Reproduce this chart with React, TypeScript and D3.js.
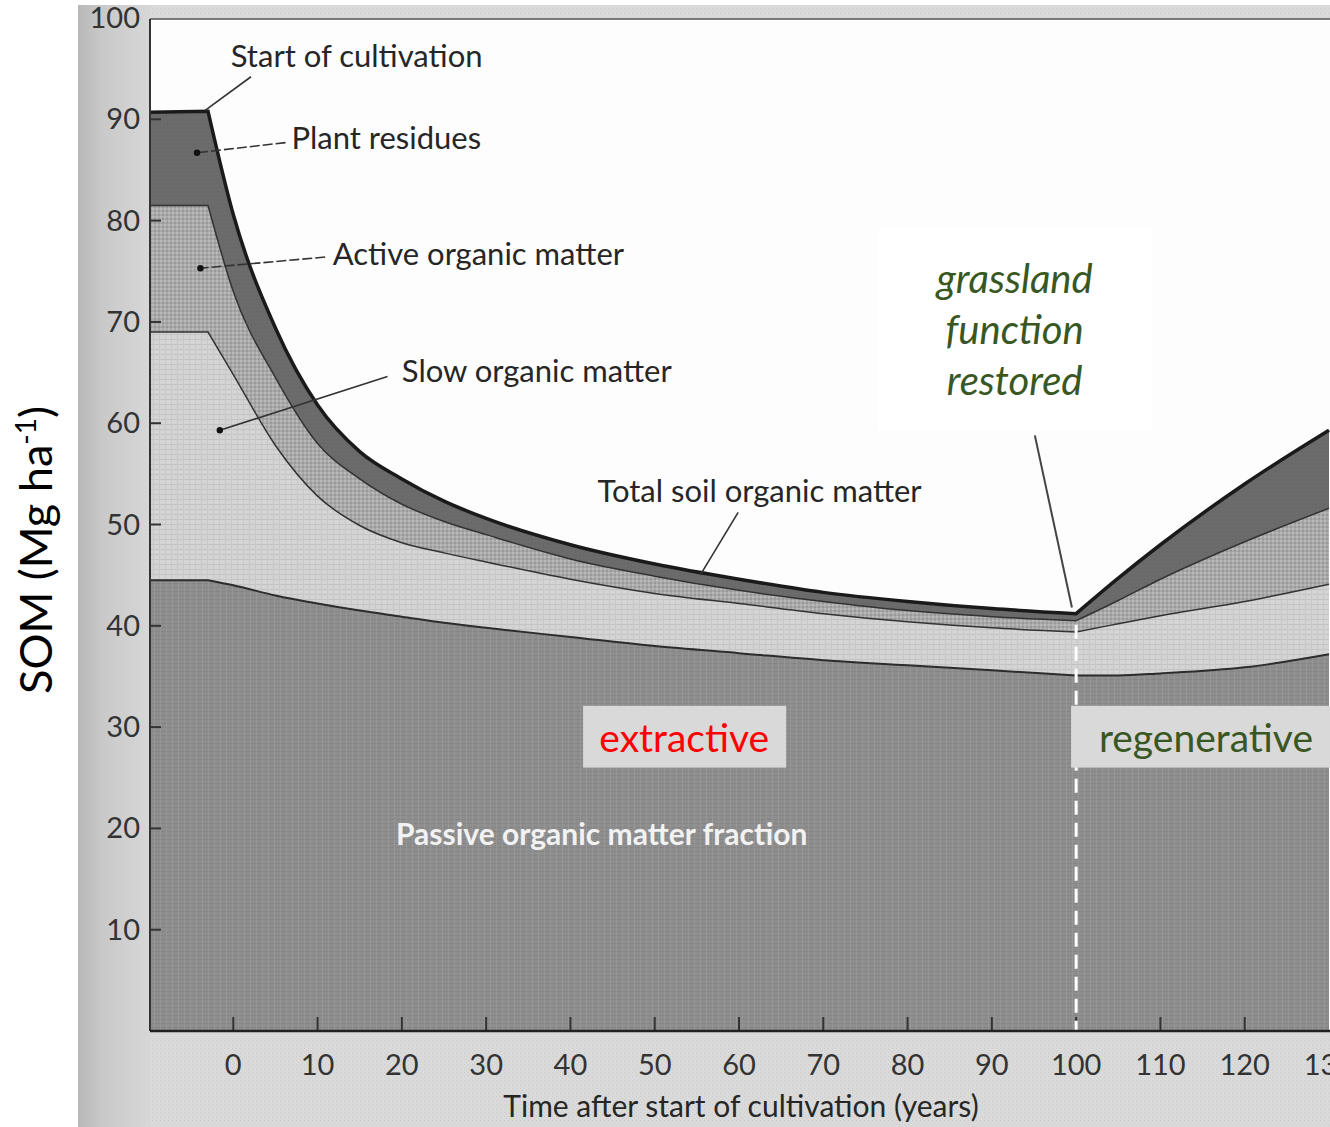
import * as d3 from "d3";

// years after start of cultivation
const YEARS = [-10, -3, 0, 5, 10, 15, 20, 25, 30, 40, 50, 60, 70, 80, 90, 100, 105, 110, 120, 130];
// upper boundary of each pool (Mg/ha), cumulative
const PASSIVE = [44.5, 44.5, 44.0, 43.0, 42.2, 41.5, 40.9, 40.3, 39.8, 38.9, 38.0, 37.3, 36.6, 36.1, 35.6, 35.1, 35.1, 35.3, 35.9, 37.2];
const SLOW = [69.0, 69.0, 64.8, 57.8, 52.8, 49.9, 48.2, 47.2, 46.3, 44.6, 43.2, 42.2, 41.2, 40.4, 39.8, 39.4, 40.2, 41.0, 42.4, 44.1];
const ACTIVE = [81.5, 81.5, 73.0, 64.5, 58.0, 54.5, 52.0, 50.3, 49.0, 46.6, 44.9, 43.5, 42.4, 41.5, 40.9, 40.5, 42.5, 44.6, 48.3, 51.6];
const TOTAL = [90.7, 90.8, 80.6, 69.4, 61.8, 57.2, 54.5, 52.3, 50.6, 48.0, 46.1, 44.6, 43.3, 42.4, 41.7, 41.2, 44.7, 48.0, 54.0, 59.3];

const X_TICKS = [0, 10, 20, 30, 40, 50, 60, 70, 80, 90, 100, 110, 120, 130];
const Y_TICKS = [10, 20, 30, 40, 50, 60, 70, 80, 90, 100];

// index ranges: before cultivation, extractive, regenerative
const SEGMENTS = [[0, 1], [1, 15], [15, 19]];

const W = 1330;
const H = 1127;
const PLOT = { left: 150, right: 1330, top: 19, bottom: 1031 };

const x = d3.scaleLinear().domain([-10, 130]).range([149, 1329]);
const y = d3.scaleLinear().domain([0, 100]).range([1031, 18]);

const FONT = "Lato, 'Open Sans', sans-serif";
const INK = "#262626";
const GREEN = "#385723";

const boundary = (vals: number[]) =>
  SEGMENTS.map(([a, b], k) => {
    const p = d3
      .line<number>()
      .x((i) => x(YEARS[i]))
      .y((i) => y(vals[i]))
      .curve(d3.curveMonotoneX)(d3.range(a, b + 1))!;
    return k === 0 ? p : "L" + p.slice(1);
  }).join("");

const fillDown = (vals: number[]) =>
  boundary(vals) + `L${x(130)},${y(0)}L${x(-10)},${y(0)}Z`;

// scan labels, placed in data units
const LABELS = [
  { text: "Start of cultivation", yr: -0.3, v: 95.2, from: [2.1, 94.2], to: [-3.3, 90.9], dot: false, dash: "" },
  { text: "Plant residues", yr: 6.9, v: 87.1, from: [6.2, 87.7], to: [-4.3, 86.7], dot: true, dash: "10 3" },
  { text: "Active organic matter", yr: 11.8, v: 75.6, from: [10.9, 76.4], to: [-3.9, 75.3], dot: true, dash: "10 3" },
  { text: "Slow organic matter", yr: 20.0, v: 64.1, from: [18.3, 64.6], to: [-1.6, 59.3], dot: true, dash: "" },
  { text: "Total soil organic matter", yr: 43.2, v: 52.2, from: [59.9, 51.2], to: [55.4, 45.0], dot: false, dash: "" },
];

export default function App() {
  const layers = [
    { vals: TOTAL, fill: "url(#residues)" },
    { vals: ACTIVE, fill: "url(#active)" },
    { vals: SLOW, fill: "url(#slow)" },
    { vals: PASSIVE, fill: "url(#passive)" },
  ];

  return (
    <div style={{ position: "absolute", left: 0, top: 0 }}>
      <svg width={W} height={H} style={{ display: "block" }}>
        <defs>
          <pattern id="paper" width="4" height="4" patternUnits="userSpaceOnUse">
            <rect width="4" height="4" fill="#dadada" />
            <rect x="0" y="0" width="1" height="1" fill="#cbcbcb" />
            <rect x="2" y="2" width="1" height="1" fill="#cecece" />
          </pattern>
          <linearGradient id="strip" x1="0" x2="1" y1="0" y2="0">
            <stop offset="0" stopColor="#b8b8b8" />
            <stop offset="0.35" stopColor="#c9c9c9" />
            <stop offset="1" stopColor="#d7d7d7" />
          </linearGradient>
          <pattern id="passive" width="6" height="4" patternUnits="userSpaceOnUse">
            <rect width="6" height="4" fill="#8e8e8e" />
            <rect x="0" y="3" width="6" height="1" fill="#858585" />
            <rect x="4" y="0" width="1" height="4" fill="#969696" />
          </pattern>
          <pattern id="slow" width="6" height="5" patternUnits="userSpaceOnUse">
            <rect width="6" height="5" fill="#d4d4d4" />
            <rect x="0" y="4" width="6" height="1" fill="#c3c3c3" />
            <rect x="3" y="0" width="1" height="5" fill="#c8c8c8" />
          </pattern>
          <pattern id="active" width="4" height="4" patternUnits="userSpaceOnUse">
            <rect width="4" height="4" fill="#a9a9a9" />
            <rect x="0" y="0" width="2" height="2" fill="#b9b9b9" />
            <rect x="2" y="2" width="2" height="2" fill="#999999" />
          </pattern>
          <pattern id="residues" width="4" height="4" patternUnits="userSpaceOnUse">
            <rect width="4" height="4" fill="#6a6a6a" />
            <rect x="1" y="1" width="1" height="1" fill="#737373" />
          </pattern>
          <clipPath id="plotClip">
            <rect x={PLOT.left} y={PLOT.top} width={PLOT.right - PLOT.left} height={PLOT.bottom - PLOT.top} />
          </clipPath>
        </defs>

        <rect width={W} height={H} fill="#ffffff" />
        <rect x={78} y={5} width={W - 78} height={H - 5} fill="url(#paper)" />
        <rect x={78} y={5} width={72} height={H - 5} fill="url(#strip)" />
        <rect
          x={PLOT.left}
          y={PLOT.top}
          width={PLOT.right - PLOT.left}
          height={PLOT.bottom - PLOT.top}
          fill="#fdfdfd"
        />

        <g clipPath="url(#plotClip)">
          {layers.map((l, i) => (
            <path key={i} d={fillDown(l.vals)} fill={l.fill} />
          ))}
          <path d={boundary(PASSIVE)} fill="none" stroke="#2c2c2c" strokeWidth={2} />
          <path d={boundary(SLOW)} fill="none" stroke="#333" strokeWidth={1.5} />
          <path d={boundary(ACTIVE)} fill="none" stroke="#333" strokeWidth={1.5} />
          <path d={boundary(TOTAL)} fill="none" stroke="#1a1a1a" strokeWidth={3.5} />

          {/* axis ticks inside the frame */}
          {Y_TICKS.filter((t) => t < 100).map((t) => (
            <line key={t} x1={PLOT.left} x2={PLOT.left + 11} y1={y(t)} y2={y(t)} stroke="#333" strokeWidth={2} />
          ))}
          {X_TICKS.filter((t) => t < 130).map((t) => (
            <line key={t} x1={x(t)} x2={x(t)} y1={y(0)} y2={y(0) - 14} stroke="#333" strokeWidth={2} />
          ))}

          <line
            x1={x(100)}
            x2={x(100)}
            y1={y(ACTIVE[15]) + 4}
            y2={y(0)}
            stroke="#ffffff"
            strokeWidth={3}
            strokeDasharray="14 8"
          />
        </g>

        {/* frame */}
        <line x1={PLOT.left} x2={PLOT.right} y1={PLOT.top} y2={PLOT.top} stroke="#555" strokeWidth={1.5} />
        <line x1={PLOT.left} x2={PLOT.left} y1={PLOT.top} y2={PLOT.bottom} stroke="#333" strokeWidth={2} />
        <line x1={PLOT.left} x2={PLOT.right} y1={PLOT.bottom} y2={PLOT.bottom} stroke="#222" strokeWidth={2.5} />

        {/* tick labels */}
        {Y_TICKS.map((t) => (
          <text key={t} x={140} y={y(t) + 10} textAnchor="end" fontFamily={FONT} fontSize={29} fill="#333">
            {t}
          </text>
        ))}
        {X_TICKS.map((t) => (
          <text key={t} x={x(t)} y={1075} textAnchor="middle" fontFamily={FONT} fontSize={29} fill="#333">
            {t}
          </text>
        ))}
        <text x={741} y={1117} textAnchor="middle" fontFamily={FONT} fontSize={30} fill={INK}>
          Time after start of cultivation (years)
        </text>

        {/* scan annotations */}
        {LABELS.map((l, i) => (
          <g key={i}>
            <line
              x1={x(l.from[0])}
              y1={y(l.from[1])}
              x2={x(l.to[0])}
              y2={y(l.to[1])}
              stroke="#333"
              strokeWidth={1.6}
              strokeDasharray={l.dash || undefined}
            />
            {l.dot && <circle cx={x(l.to[0])} cy={y(l.to[1])} r={3.2} fill="#111" />}
            <text x={x(l.yr)} y={y(l.v)} fontFamily={FONT} fontSize={31} fill={INK}>
              {l.text}
            </text>
          </g>
        ))}
        <text x={x(19.3)} y={y(18.4)} fontFamily={FONT} fontSize={30} fontWeight={700} fill="#f2f2f2">
          Passive organic matter fraction
        </text>

        {/* overlay annotations */}
        <rect x={x(76.5)} y={y(79.2)} width={x(109.0) - x(76.5)} height={y(59.3) - y(79.2)} fill="#ffffff" />
        {["grassland", "function", "restored"].map((s, i) => (
          <text
            key={s}
            x={x(92.7)}
            y={y(72.9) + i * 51}
            textAnchor="middle"
            fontFamily={FONT}
            fontStyle="italic"
            fontSize={40}
            fill={GREEN}
          >
            {s}
          </text>
        ))}
        <line x1={x(95.1)} y1={y(58.8)} x2={x(99.5)} y2={y(41.8)} stroke="#444" strokeWidth={2} />

        <rect x={x(41.5)} y={y(32.1)} width={x(65.6) - x(41.5)} height={y(26.0) - y(32.1)} fill="#d9d9d9" />
        <text x={x(53.5)} y={y(27.5)} textAnchor="middle" fontFamily={FONT} fontSize={39} fill="#ff0000">
          extractive
        </text>
        <rect x={x(99.4)} y={y(32.1)} width={x(130.2) - x(99.4)} height={y(26.0) - y(32.1)} fill="#d9d9d9" />
        <text x={x(115.4)} y={y(27.5)} textAnchor="middle" fontFamily={FONT} fontSize={39} fill={GREEN}>
          regenerative
        </text>

        <text
          transform={`translate(52, ${550}) rotate(-90)`}
          textAnchor="middle"
          fontFamily={FONT}
          fontSize={45}
          fill="#000"
        >
          SOM (Mg ha
          <tspan dy={-16} fontSize={28}>-1</tspan>
          <tspan dy={16}>)</tspan>
        </text>
      </svg>
    </div>
  );
}
